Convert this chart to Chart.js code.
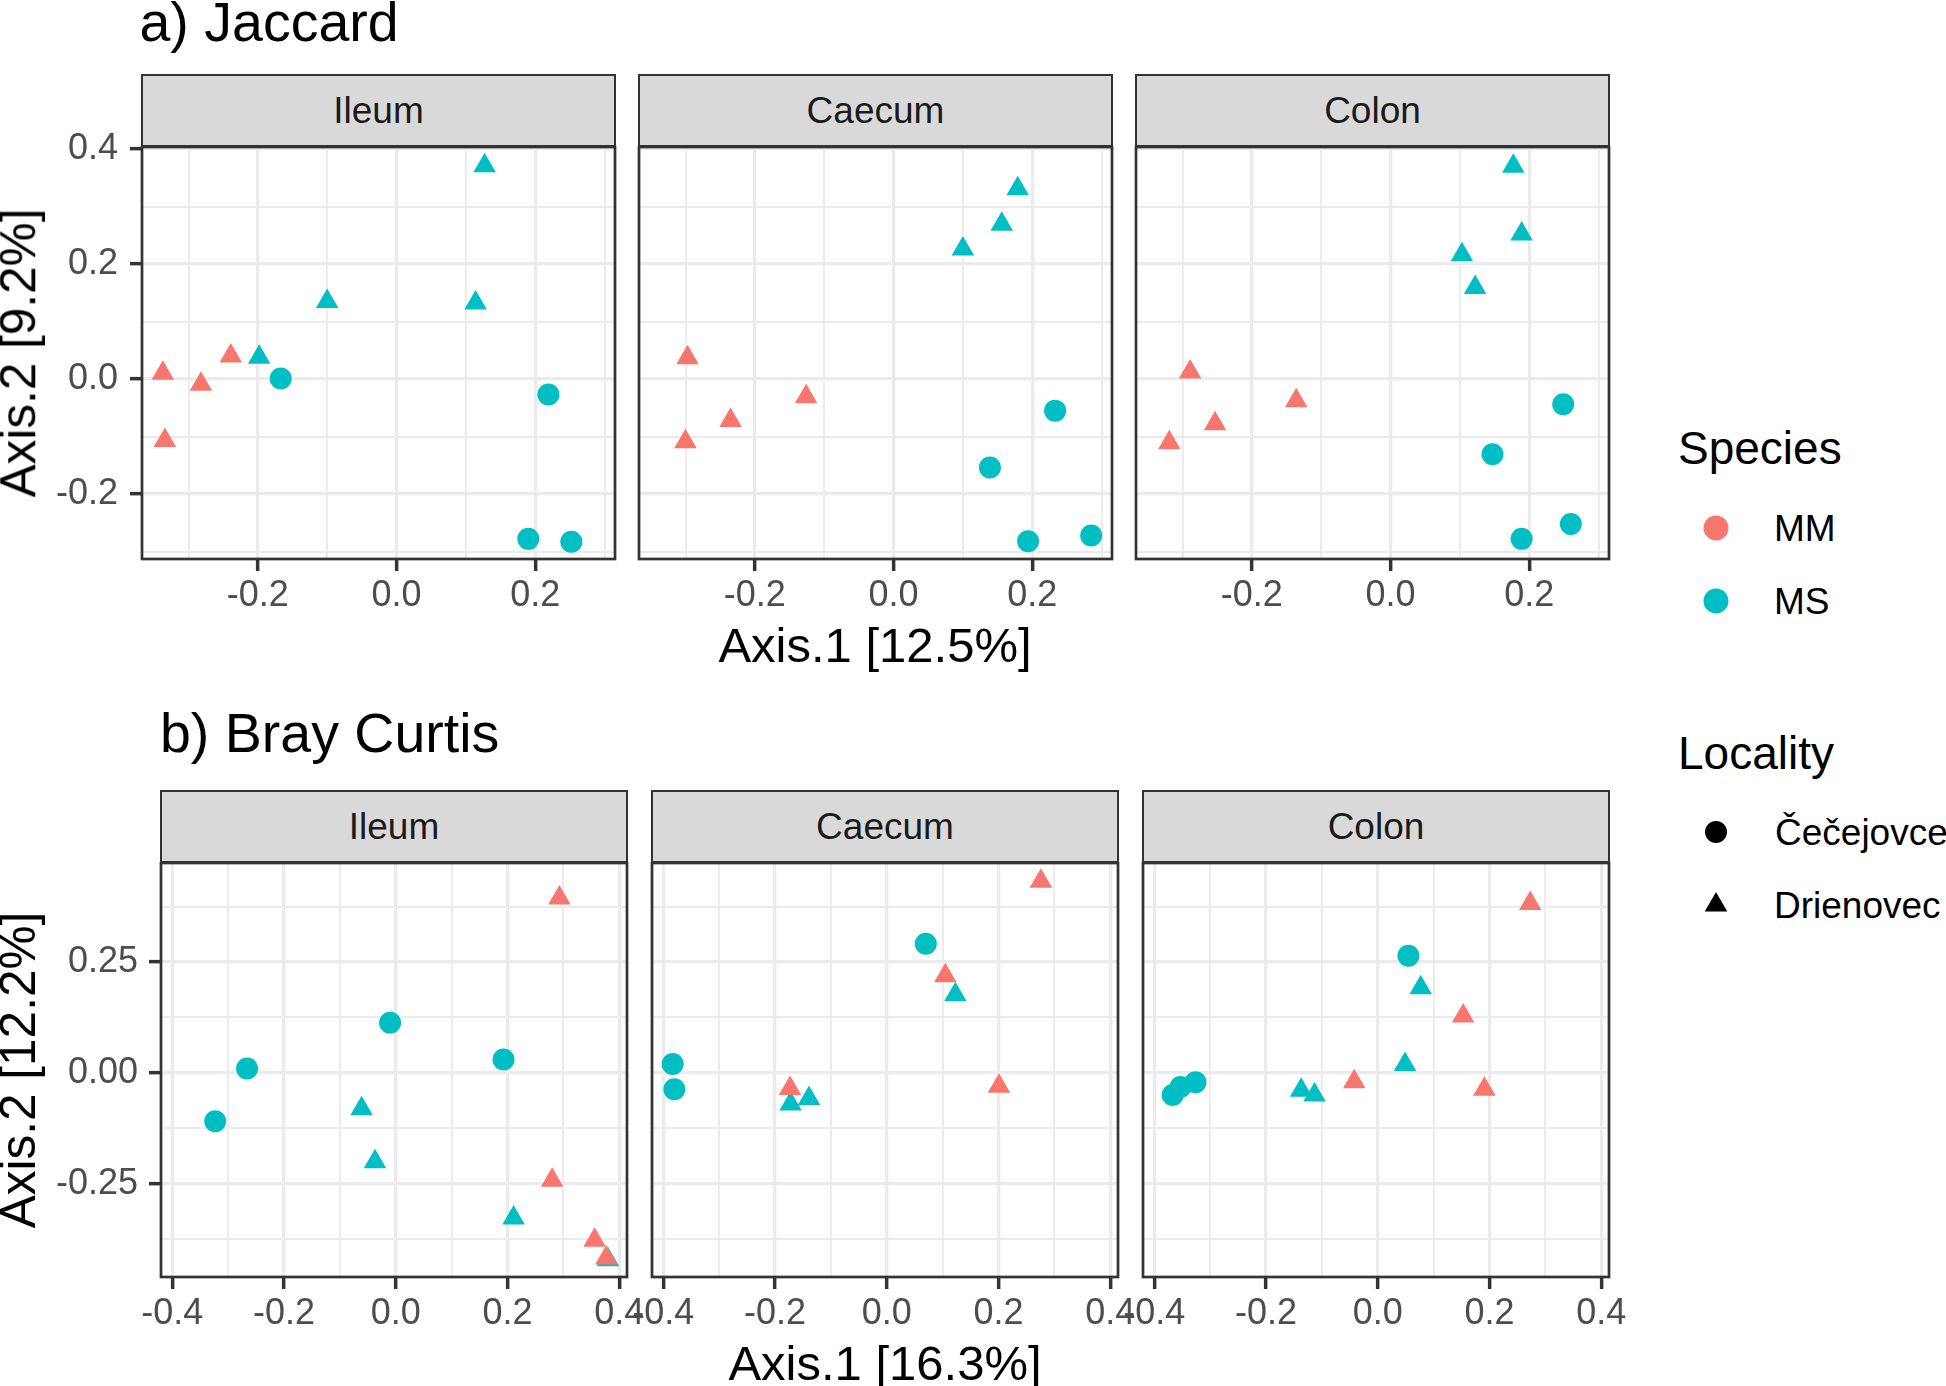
<!DOCTYPE html>
<html>
<head>
<meta charset="utf-8">
<script src="https://cdn.jsdelivr.net/npm/chart.js@4.4.1/dist/chart.umd.min.js"></script>
<style>
  body { margin: 0; background: #fff; width: 1946px; height: 1386px; position: relative; overflow: hidden;
         font-family: "Liberation Sans", Arial, sans-serif; }
  .txt { position: absolute; white-space: nowrap; line-height: 1; }
  .strip { position: absolute; background: #d9d9d9; border: 2.7px solid #333; box-sizing: border-box;
           display: flex; align-items: center; justify-content: center; font-size: 37px; color: #1a1a1a; }
  canvas { position: absolute; }
  svg { position: absolute; left: 0; top: 0; }
</style>
</head>
<body>
<script>
const MM = '#F8766D', MS = '#00BFC4';

// a) Jaccard  [x, y]
const jacIleumMMTri  = [[-0.337, 0.010], [-0.282, -0.009], [-0.239, 0.040], [-0.334, -0.107]];
const jacIleumMSTri  = [[0.127, 0.371], [-0.100, 0.135], [0.114, 0.132], [-0.198, 0.038]];
const jacIleumMSCirc = [[-0.167, 0.001], [0.219, -0.027], [0.190, -0.278], [0.252, -0.283]];

const jacCaecumMMTri  = [[-0.297, 0.037], [-0.126, -0.031], [-0.235, -0.072], [-0.300, -0.109]];
const jacCaecumMSTri  = [[0.179, 0.331], [0.156, 0.269], [0.100, 0.226]];
const jacCaecumMSCirc = [[0.233, -0.055], [0.139, -0.154], [0.194, -0.282], [0.285, -0.272]];

const jacColonMMTri  = [[-0.289, 0.012], [-0.136, -0.038], [-0.253, -0.078], [-0.319, -0.111]];
const jacColonMSTri  = [[0.177, 0.370], [0.189, 0.252], [0.103, 0.216], [0.122, 0.159]];
const jacColonMSCirc = [[0.249, -0.044], [0.147, -0.131], [0.189, -0.278], [0.260, -0.252]];

// b) Bray Curtis
const brayIleumMMTri  = [[0.293, 0.394], [0.280, -0.242], [0.356, -0.377], [0.377, -0.417]];
const brayIleumMSTri  = [[-0.061, -0.081], [-0.037, -0.200], [0.211, -0.327], [0.380, -0.421]];
const brayIleumMSCirc = [[-0.010, 0.113], [-0.266, 0.010], [-0.323, -0.109], [0.193, 0.030]];

const brayCaecumMMTri  = [[0.276, 0.432], [0.105, 0.219], [0.201, -0.030], [-0.173, -0.035]];
const brayCaecumMSTri  = [[0.123, 0.176], [-0.172, -0.070], [-0.139, -0.058]];
const brayCaecumMSCirc = [[0.070, 0.291], [-0.383, 0.020], [-0.380, -0.037]];

const brayColonMMTri  = [[0.273, 0.382], [0.153, 0.128], [-0.042, -0.020], [0.191, -0.037]];
const brayColonMSTri  = [[0.077, 0.192], [0.049, 0.019], [-0.137, -0.039], [-0.113, -0.050]];
const brayColonMSCirc = [[0.055, 0.264], [-0.367, -0.050], [-0.353, -0.032], [-0.326, -0.021]];

// axes
const jacXRange = [-0.367, 0.315], jacYRange = [-0.313, 0.4035];
const jacXMajor = [-0.2, 0, 0.2], jacXMinor = [-0.3, -0.1, 0.1, 0.3];
const jacYMajor = [-0.2, 0, 0.2, 0.4], jacYMinor = [-0.3, -0.1, 0.1, 0.3];
const brayXRange = [-0.420, 0.414], brayYRange = [-0.46, 0.473];
const brayXMajor = [-0.4, -0.2, 0, 0.2, 0.4], brayXMinor = [-0.3, -0.1, 0.1, 0.3];
const brayYMajor = [-0.25, 0, 0.25], brayYMinor = [-0.375, -0.125, 0.125, 0.375];

const facets = ['Ileum', 'Caecum', 'Colon'];

const W_Y = 140, H_X = 90, PAD_T = 40, PAD_R = 40;
const TICK_FONT = { family: 'Liberation Sans', size: 36 };

const panelBorder = {
  id: 'panelBorder',
  afterDraw(chart) {
    const { ctx, chartArea: a } = chart;
    ctx.save();
    ctx.strokeStyle = '#333333';
    ctx.lineWidth = 2.7;
    ctx.strokeRect(a.left, a.top, a.right - a.left, a.bottom - a.top);
    ctx.restore();
  }
};

function ds(pts, color, shape) {
  return {
    data: pts.map(([x, y]) => ({ x, y })),
    pointStyle: shape,
    pointRadius: shape === 'triangle' ? 13 : 11,
    pointHoverRadius: shape === 'triangle' ? 13 : 11,
    pointBackgroundColor: color,
    pointBorderWidth: 0,
    clip: 0
  };
}

function axis(range, major, minor, fmt, showLabels, size, pad) {
  const all = major.concat(minor).sort((a, b) => a - b);
  const isMajor = v => major.includes(v);
  return {
    type: 'linear', min: range[0], max: range[1],
    afterBuildTicks: s => { s.ticks = all.map(v => ({ value: v })); },
    afterFit: s => { if (s.isHorizontal()) s.height = size; else s.width = size; },
    ticks: {
      display: showLabels, autoSkip: false, maxRotation: 0, padding: pad,
      font: TICK_FONT, color: '#4D4D4D',
      callback: v => isMajor(v) ? fmt(v) : ''
    },
    grid: {
      color: '#EBEBEB',
      lineWidth: c => isMajor(c.tick.value) ? 3.3 : 1.9,
      drawTicks: true, tickLength: 12, tickWidth: 3.5,
      tickColor: c => (showLabels && isMajor(c.tick.value)) ? '#333333' : 'rgba(0,0,0,0)'
    },
    border: { display: false }
  };
}

function panel(p) {
  const cv = document.createElement('canvas');
  const w = W_Y + p.w + PAD_R, h = PAD_T + p.h + H_X;
  cv.width = w; cv.height = h;
  cv.style.left = (p.left - W_Y) + 'px';
  cv.style.top = (p.top - PAD_T) + 'px';
  cv.style.width = w + 'px'; cv.style.height = h + 'px';
  document.body.appendChild(cv);

  const strip = document.createElement('div');
  strip.className = 'strip';
  strip.textContent = p.name;
  strip.style.left = (p.left - 1.35) + 'px';
  strip.style.top = p.stripTop + 'px';
  strip.style.width = (p.w + 2.7) + 'px';
  strip.style.height = (p.top - p.stripTop) + 'px';
  document.body.appendChild(strip);

  new Chart(cv, {
    type: 'scatter',
    data: { datasets: p.sets },
    options: {
      responsive: false, animation: false, devicePixelRatio: 1,
      layout: { autoPadding: false, padding: { left: 0, right: PAD_R, top: PAD_T, bottom: 0 } },
      plugins: { legend: { display: false }, tooltip: { enabled: false } },
      events: [],
      scales: {
        x: axis(p.xr, p.xMajor, p.xMinor, p.fx, true, H_X, 3),
        y: axis(p.yr, p.yMajor, p.yMinor, p.fy, p.showY, W_Y, p.yPad)
      }
    },
    plugins: [panelBorder]
  });
}

const f1 = v => v.toFixed(1), f2 = v => v.toFixed(2);

const jacSets = [
  [jacIleumMMTri, jacIleumMSTri, jacIleumMSCirc],
  [jacCaecumMMTri, jacCaecumMSTri, jacCaecumMSCirc],
  [jacColonMMTri, jacColonMSTri, jacColonMSCirc]
];
const braySets = [
  [brayIleumMMTri, brayIleumMSTri, brayIleumMSCirc],
  [brayCaecumMMTri, brayCaecumMSTri, brayCaecumMSCirc],
  [brayColonMMTri, brayColonMSTri, brayColonMSCirc]
];

const jacLefts = [142, 639, 1136], brayLefts = [161, 652, 1143];

facets.forEach((name, i) => {
  const [mmT, msT, msC] = jacSets[i];
  panel({
    name, left: jacLefts[i], top: 147, w: 473, h: 412, stripTop: 74,
    xr: jacXRange, yr: jacYRange, xMajor: jacXMajor, xMinor: jacXMinor,
    yMajor: jacYMajor, yMinor: jacYMinor, fx: f1, fy: f1, showY: i === 0, yPad: 12,
    sets: [ds(mmT, MM, 'triangle'), ds(msT, MS, 'triangle'), ds(msC, MS, 'circle')]
  });
});

facets.forEach((name, i) => {
  const [mmT, msT, msC] = braySets[i];
  panel({
    name, left: brayLefts[i], top: 863, w: 466, h: 414, stripTop: 790,
    xr: brayXRange, yr: brayYRange, xMajor: brayXMajor, xMinor: brayXMinor,
    yMajor: brayYMajor, yMinor: brayYMinor, fx: f1, fy: f2, showY: i === 0, yPad: 11,
    sets: [ds(mmT, MM, 'triangle'), ds(msT, MS, 'triangle'), ds(msC, MS, 'circle')]
  });
});

function txt(s, x, y, size, tf, color) {
  const d = document.createElement('div');
  d.className = 'txt';
  d.textContent = s;
  d.style.left = x + 'px';
  d.style.top = y + 'px';
  d.style.fontSize = size + 'px';
  d.style.color = color || '#000';
  d.style.transform = tf || 'translate(0,-50%)';
  document.body.appendChild(d);
}

const CENTER = 'translate(-50%,-50%)';
const ROT = 'translate(-50%,-50%) rotate(-90deg)';

txt('a) Jaccard', 139.5, 22.5, 55.5);
txt('b) Bray Curtis', 160, 734, 55.5);
txt('Axis.1 [12.5%]', 875, 645, 49);
txt('Axis.1 [16.3%]', 885, 1363, 49);
document.querySelectorAll('.txt').forEach((d, i) => { if (i >= 2) d.style.transform = CENTER; });
txt('Axis.2 [9.2%]', 18, 353, 49.5, ROT);
txt('Axis.2 [12.2%]', 18, 1070, 49.5, ROT);

// legends
txt('Species', 1678, 448, 46);
txt('MM', 1774, 528, 37);
txt('MS', 1774, 601, 37);
txt('Locality', 1678, 753, 46);
txt('Čečejovce', 1775, 832, 37);
txt('Drienovec', 1774, 905, 37);

const svgNS = 'http://www.w3.org/2000/svg';
const svg = document.createElementNS(svgNS, 'svg');
svg.setAttribute('width', 1946); svg.setAttribute('height', 1386);
function circ(cx, cy, r, fill) {
  const c = document.createElementNS(svgNS, 'circle');
  c.setAttribute('cx', cx); c.setAttribute('cy', cy); c.setAttribute('r', r); c.setAttribute('fill', fill);
  svg.appendChild(c);
}
circ(1716, 528, 12.5, MM);
circ(1716, 601, 12.5, MS);
circ(1716, 832, 11, '#000');
const tri = document.createElementNS(svgNS, 'polygon');
const tr = 13, tx = 1716, ty = 905;
tri.setAttribute('points', `${tx},${ty - tr} ${tx + tr * 0.866},${ty + tr / 2} ${tx - tr * 0.866},${ty + tr / 2}`);
tri.setAttribute('fill', '#000');
svg.appendChild(tri);
document.body.appendChild(svg);
</script>
</body>
</html>
